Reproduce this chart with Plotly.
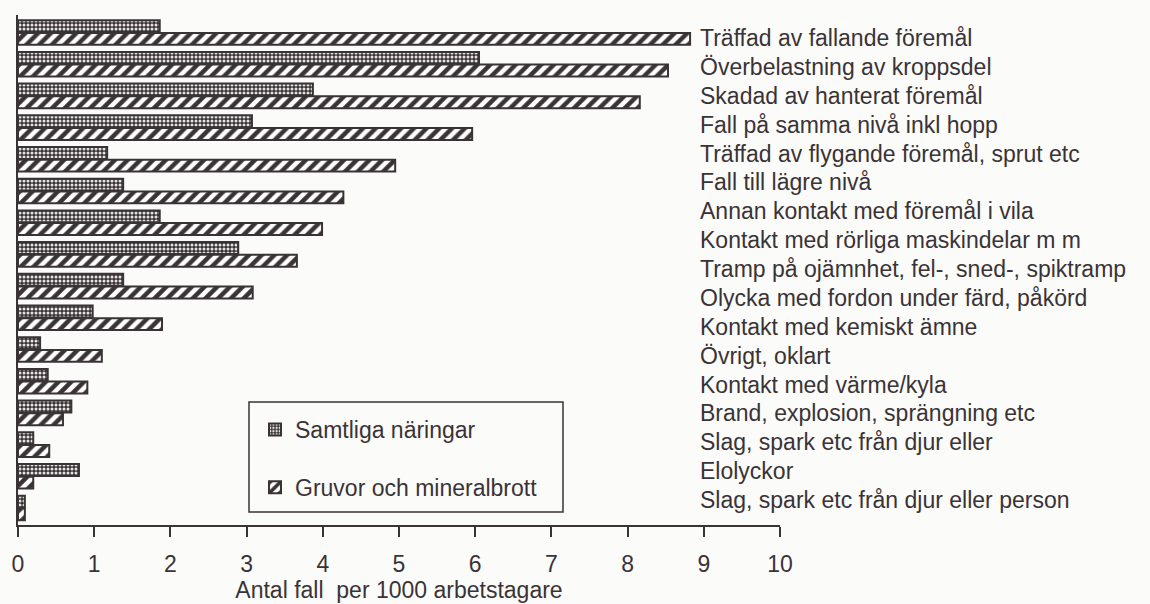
import plotly.graph_objects as go

labels = [
    "Träffad av fallande föremål",
    "Överbelastning av kroppsdel",
    "Skadad av hanterat föremål",
    "Fall på samma nivå inkl hopp",
    "Träffad av flygande föremål, sprut etc",
    "Fall till lägre nivå",
    "Annan kontakt med föremål i vila",
    "Kontakt med rörliga maskindelar m m",
    "Tramp på ojämnhet, fel-, sned-, spiktramp",
    "Olycka med fordon under färd, påkörd",
    "Kontakt med kemiskt ämne",
    "Övrigt, oklart",
    "Kontakt med värme/kyla",
    "Brand, explosion, sprängning etc",
    "Slag, spark etc från djur eller",
    "Elolyckor",
    "Slag, spark etc från djur eller person",
]

samtliga = [1.86, 6.05, 3.87, 3.07, 1.17, 1.38, 1.86, 2.89, 1.38, 0.98,
            0.29, 0.39, 0.70, 0.20, 0.80, 0.09]
gruvor = [8.82, 8.53, 8.16, 5.96, 4.95, 4.27, 3.99, 3.66, 3.08, 1.89,
          1.10, 0.91, 0.59, 0.41, 0.20, 0.09]

series_names = ["Samtliga näringar", "Gruvor och mineralbrott"]
x_ticks = list(range(0, 11))
x_title = "Antal fall  per 1000 arbetstagare"

DARK = "#3a3336"
FONT = "Liberation Sans, Arial, Helvetica, sans-serif"
FS = 23

W, H = 1150, 604
L, R_PX, T, B_PX = 18, 780, 15, 525  # plot area pixel edges

pos = list(range(len(samtliga)))

fig = go.Figure()
fig.add_trace(go.Bar(
    y=pos, x=samtliga, orientation="h", name=series_names[0],
    legendgroup="a",
    marker=dict(color=DARK, line=dict(color=DARK, width=2),
                pattern=dict(shape=".", bgcolor=DARK, fgcolor="#e6e3e4",
                             size=4, solidity=0.45, fillmode="replace")),
))
fig.add_trace(go.Bar(
    y=pos, x=gruvor, orientation="h", name=series_names[1],
    legendgroup="b",
    marker=dict(color="white", line=dict(color=DARK, width=2),
                pattern=dict(shape="/", bgcolor="white", fgcolor=DARK,
                             size=9, solidity=0.5, fillmode="replace")),
))

plot_h = B_PX - T
plot_w = R_PX - L
annotations = []
for i, lab in enumerate(labels):
    p = 38 + 28.875 * i
    annotations.append(dict(
        text=lab, xref="paper", yref="paper", x=(698 - L) / plot_w,
        y=(B_PX - p) / plot_h, xanchor="left", yanchor="middle",
        showarrow=False, font=dict(family=FONT, size=FS, color=DARK),
    ))

legend_box = dict(
    type="rect", xref="paper", yref="paper",
    x0=(249 - L) / plot_w, x1=(563 - L) / plot_w,
    y0=(B_PX - 512) / plot_h, y1=(B_PX - 402) / plot_h,
    line=dict(color=DARK, width=1.5), fillcolor="rgba(0,0,0,0)",
)

fig.update_layout(
    width=W, height=H,
    margin=dict(l=L, r=W - R_PX, t=T, b=H - B_PX, autoexpand=False),
    paper_bgcolor="#fbfbfa", plot_bgcolor="rgba(0,0,0,0)",
    barmode="group", bargap=0.2, bargroupgap=0.06,
    font=dict(family=FONT, size=FS, color=DARK),
    showlegend=True,
    legend=dict(
        x=(255 - L) / plot_w, y=(B_PX - 408) / plot_h,
        xanchor="left", yanchor="top",
        bgcolor="rgba(0,0,0,0)", borderwidth=0,
        tracegroupgap=25, traceorder="grouped",
        font=dict(family=FONT, size=FS, color=DARK),
    ),
    xaxis=dict(
        range=[0, 10], tickvals=x_ticks, ticktext=[str(v) for v in x_ticks],
        showline=True, linecolor=DARK, linewidth=2,
        ticks="outside", ticklen=10, tickwidth=2, tickcolor=DARK,
        showgrid=False, zeroline=False, ticklabelstandoff=7,
        title=dict(text=x_title, standoff=2,
                   font=dict(family=FONT, size=FS, color=DARK)),
        automargin=False,
    ),
    yaxis=dict(
        range=[(B_PX - 32.5) / 31.7, (T - 32.5) / 31.7],
        showline=True, linecolor=DARK, linewidth=2,
        showticklabels=False, ticks="", showgrid=False, zeroline=False,
        automargin=False,
    ),
    annotations=annotations,
    shapes=[legend_box],
)

fig.write_html("out.html",
               config={"displayModeBar": False},
               post_script="document.body.style.margin='0';"
                           "document.body.style.overflow='hidden';")
